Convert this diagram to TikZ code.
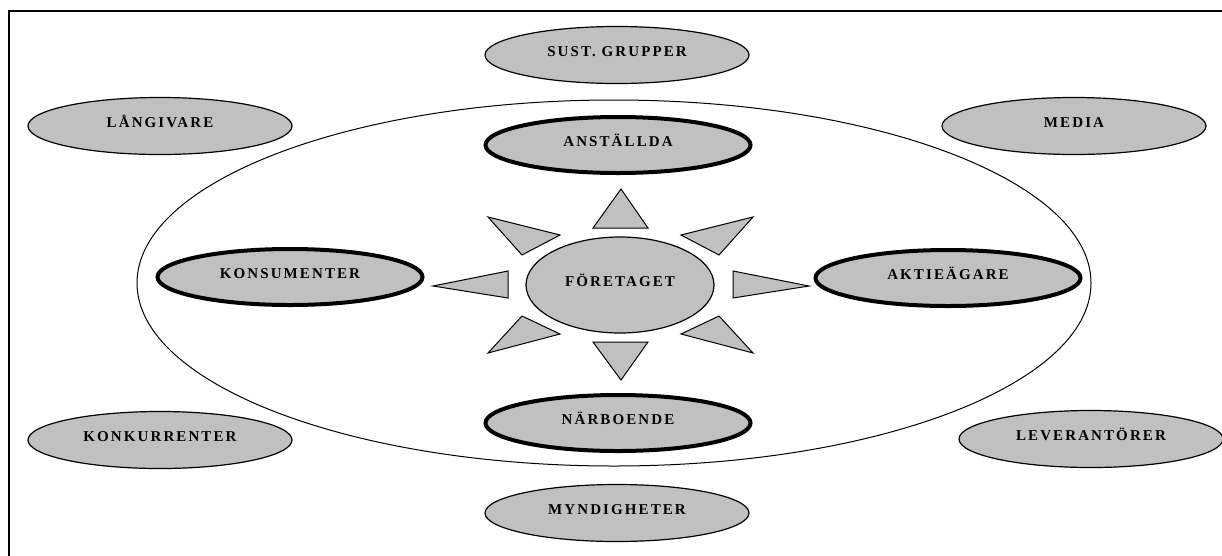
\documentclass[tikz,border=0pt]{standalone}
\usepackage{fontspec}
\setmainfont{Liberation Serif}[LetterSpace=14]
\usetikzlibrary{shapes.geometric}
\definecolor{ovalgray}{RGB}{192,192,192}

\begin{document}
\begin{tikzpicture}[x=1pt,y=-1pt,
  grupp/.style={ellipse,draw,fill=ovalgray,line width=1.2pt,inner sep=0pt,
    minimum width=264pt,minimum height=57pt,
    font=\bfseries\fontsize{15}{15}\selectfont,text height=10pt,text depth=8pt},
  nara/.style={grupp,line width=4pt,minimum width=265pt,minimum height=56pt},
  stråle/.style={draw,fill=ovalgray,line width=1pt}]
\useasboundingbox (0,0) rectangle (1222,555);
\clip (0,0) rectangle (1222,555);
\draw[line width=1.3pt] (9,570) -- (9,11) -- (1240,11);
% yttre intressenter
\node (sust) [grupp] at (617,55) {SUST. GRUPPER};
\node (langivare) [grupp] at (160,126) {LÅNGIVARE};
\node (media) [grupp] at (1074,126) {MEDIA};
\node (konkurrenter) [grupp] at (160,440) {KONKURRENTER};
\node (leverantorer) [grupp] at (1091,439) {LEVERANTÖRER};
\node (myndigheter) [grupp] at (617,513) {MYNDIGHETER};
% kretsen
\node (krets) [ellipse,draw,line width=1pt,minimum width=954pt,minimum height=366pt] at (614,283) {};
\node (anstallda) [nara] at (618,145) {ANSTÄLLDA};
\node (konsumenter) [nara] at (290,277) {KONSUMENTER};
\node (aktieagare) [nara] at (948,278) {AKTIEÄGARE};
\node (narboende) [nara] at (618,423) {NÄRBOENDE};
\node (foretaget) [grupp,minimum width=188pt,minimum height=96pt] at (620,285) {FÖRETAGET};
% strålar
\filldraw[stråle] (621,189) -- (648,228) -- (593,228) -- cycle;
\filldraw[stråle] (621,380) -- (648,342) -- (593,342) -- cycle;
\filldraw[stråle] (433,286) -- (508,271) -- (508,298) -- cycle;
\filldraw[stråle] (809,286) -- (733,271) -- (733,298) -- cycle;
\filldraw[stråle] (488,217) -- (560,235) -- (522,255) -- cycle;
\filldraw[stråle] (753,217) -- (681,235) -- (719,255) -- cycle;
\filldraw[stråle] (522,316) -- (560,334) -- (488,353) -- cycle;
\filldraw[stråle] (719,316) -- (681,334) -- (753,353) -- cycle;
\end{tikzpicture}
\end{document}
